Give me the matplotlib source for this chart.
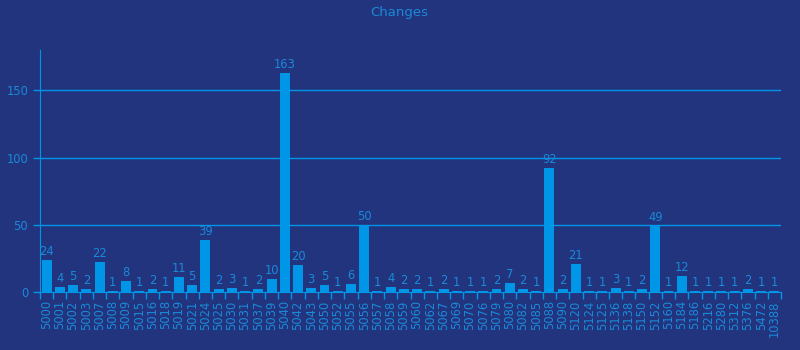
import matplotlib
matplotlib.use("Agg")
import matplotlib.pyplot as plt
import numpy as np

categories = ["5000", "5001", "5002", "5003", "5007", "5008", "5009", "5015", "5016", "5018",
              "5019", "5021", "5024", "5025", "5030", "5031", "5037", "5039", "5040", "5042",
              "5043", "5050", "5052", "5055", "5056", "5057", "5058", "5059", "5060", "5062",
              "5067", "5069", "5070", "5076", "5079", "5080", "5082", "5085", "5088", "5090",
              "5120", "5124", "5125", "5136", "5138", "5150", "5152", "5160", "5184", "5186",
              "5216", "5280", "5312", "5376", "5472", "10388"]
changes = [24, 4, 5, 2, 22, 1, 8, 1, 2, 1,
           11, 5, 39, 2, 3, 1, 2, 10, 163, 20,
           3, 5, 1, 6, 50, 1, 4, 2, 2, 1,
           2, 1, 1, 1, 2, 7, 2, 1, 92, 2,
           21, 1, 1, 3, 1, 2, 49, 1, 12, 1,
           1, 1, 1, 2, 1, 1]
y_ticks = [0, 50, 100, 150]

bg = "#22347e"
bar_c = "#0096e8"
txt_c = "#1a8ad8"

fig = plt.figure(figsize=(8, 3.5), dpi=100, facecolor=bg)
ax = fig.add_axes([0.05, 0.1657, 0.92625, 0.6914], facecolor=bg)

x = np.arange(len(categories))
bars = ax.bar(x, changes, width=0.75, color=bar_c, zorder=3)
for xi, v in zip(x, changes):
    ax.text(xi, v + 1.5, str(v), ha="center", va="bottom", color=txt_c, fontsize=8.3, zorder=4)

ax.set_xlim(-0.5, len(categories) - 0.5)
ax.set_ylim(0, 180)
ax.set_yticks(y_ticks)
ax.set_xticks(x)
ax.set_xticklabels(categories, rotation=90, color=txt_c, fontsize=8.3)
ax.set_xticks(np.arange(-0.5, len(categories), 1.0), minor=True)
ax.tick_params(axis="x", which="major", length=0, pad=6)
ax.tick_params(axis="x", which="minor", length=5, color=bar_c, width=1)
ax.tick_params(axis="y", length=5, color=bar_c, labelcolor=txt_c, labelsize=8.3, width=1)
for yv in y_ticks[1:]:
    ax.axhline(yv, color=bar_c, linewidth=1, zorder=1)
for s in ["top", "right"]:
    ax.spines[s].set_visible(False)
ax.spines["left"].set_color(bar_c)
ax.spines["bottom"].set_color(bar_c)
fig.text(0.4987, 0.965, "Changes", ha="center", va="center", color=txt_c, fontsize=9.5)

fig.savefig("out.png", dpi=100, facecolor=bg)
